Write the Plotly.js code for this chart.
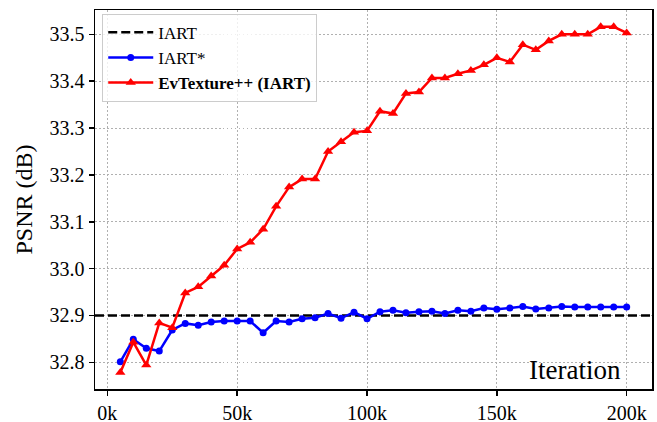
<!DOCTYPE html>
<html>
<head>
<meta charset="utf-8">
<script src="https://cdn.plot.ly/plotly-3.0.1.min.js"></script>
<style>html,body{margin:0;padding:0;background:#fff;}#chart{width:657px;height:422px;}</style>
</head>
<body>
<div id="chart"></div>
<script>
// Iterations (k)
const iterations = [5,10,15,20,25,30,35,40,45,50,55,60,65,70,75,80,85,90,95,100,
  105,110,115,120,125,130,135,140,145,150,155,160,165,170,175,180,185,190,195,200];

// IART baseline PSNR (dB)
const iartBaseline = 32.90;

// IART* PSNR (dB)
const iartStar = [32.801,32.849,32.830,32.824,32.869,32.883,32.879,32.886,32.888,32.888,
  32.888,32.863,32.888,32.886,32.893,32.895,32.904,32.894,32.907,32.893,
  32.908,32.911,32.906,32.908,32.909,32.904,32.911,32.909,32.916,32.913,
  32.916,32.919,32.914,32.916,32.919,32.918,32.918,32.918,32.918,32.918];

// EvTexture++ (IART) PSNR (dB)
const evTexture = [32.778,32.843,32.794,32.884,32.874,32.948,32.961,32.984,33.007,33.042,
  33.056,33.084,33.133,33.174,33.191,33.191,33.250,33.271,33.291,33.294,
  33.336,33.331,33.374,33.377,33.407,33.407,33.416,33.423,33.435,33.450,
  33.441,33.478,33.467,33.486,33.500,33.500,33.500,33.516,33.516,33.503];

const xTickVals = [0,50,100,150,200];
const xTickText = ['0k','50k','100k','150k','200k'];
const yTickVals = [32.8,32.9,33.0,33.1,33.2,33.3,33.4,33.5];
const yTickText = ['32.8','32.9','33.0','33.1','33.2','33.3','33.4','33.5'];

const xRange = [-4.75, 209.75];
const yRange = [32.743, 33.552];

const traces = [
  {
    x: xRange, y: [iartBaseline, iartBaseline],
    mode: 'lines', name: 'IART',
    line: {color: '#000000', width: 2.5, dash: '9px,4px'},
    hoverinfo: 'skip'
  },
  {
    x: iterations, y: iartStar,
    mode: 'lines+markers', name: 'IART*',
    line: {color: '#0000ff', width: 2.5},
    marker: {symbol: 'circle', size: 7, color: '#0000ff'}
  },
  {
    x: iterations, y: evTexture,
    mode: 'lines+markers', name: '<b>EvTexture++ (IART)</b>',
    line: {color: '#ff0000', width: 2.5},
    marker: {symbol: 'triangle-up', size: 9, color: '#ff0000'}
  }
];

const axisCommon = {
  showline: true, mirror: true, linecolor: '#000000', linewidth: 1.5,
  ticks: 'outside', ticklen: 5, tickwidth: 1.5, tickcolor: '#000000',
  showgrid: true, gridcolor: '#b0b0b0', gridwidth: 1, griddash: '1.5px,2.5px',
  zeroline: false, tickfont: {size: 20, color: '#000000'}
};

const layout = {
  width: 657, height: 422,
  margin: {l: 95, r: 5, t: 10, b: 33, pad: 0},
  paper_bgcolor: '#ffffff', plot_bgcolor: '#ffffff',
  font: {family: '"Liberation Serif", "Times New Roman", serif', color: '#000000'},
  showlegend: true,
  legend: {
    x: 0.013, y: 0.99, xanchor: 'left', yanchor: 'top',
    bgcolor: 'rgba(255,255,255,0.8)', bordercolor: '#cccccc', borderwidth: 1,
    font: {size: 17, color: '#000000'}, itemwidth: 45
  },
  xaxis: Object.assign({}, axisCommon, {
    range: xRange, tickvals: xTickVals, ticktext: xTickText
  }),
  yaxis: Object.assign({}, axisCommon, {
    range: yRange, tickvals: yTickVals, ticktext: yTickText,
    title: {text: 'PSNR (dB)', font: {size: 24, color: '#000000'}, standoff: 10}
  }),
  annotations: [{
    xref: 'paper', yref: 'paper', x: 0.948, y: 0.05,
    xanchor: 'right', yanchor: 'middle', showarrow: false,
    text: 'Iteration', font: {size: 27, color: '#000000'}
  }]
};

Plotly.newPlot('chart', traces, layout, {displayModeBar: false, staticPlot: true});
</script>
</body>
</html>
